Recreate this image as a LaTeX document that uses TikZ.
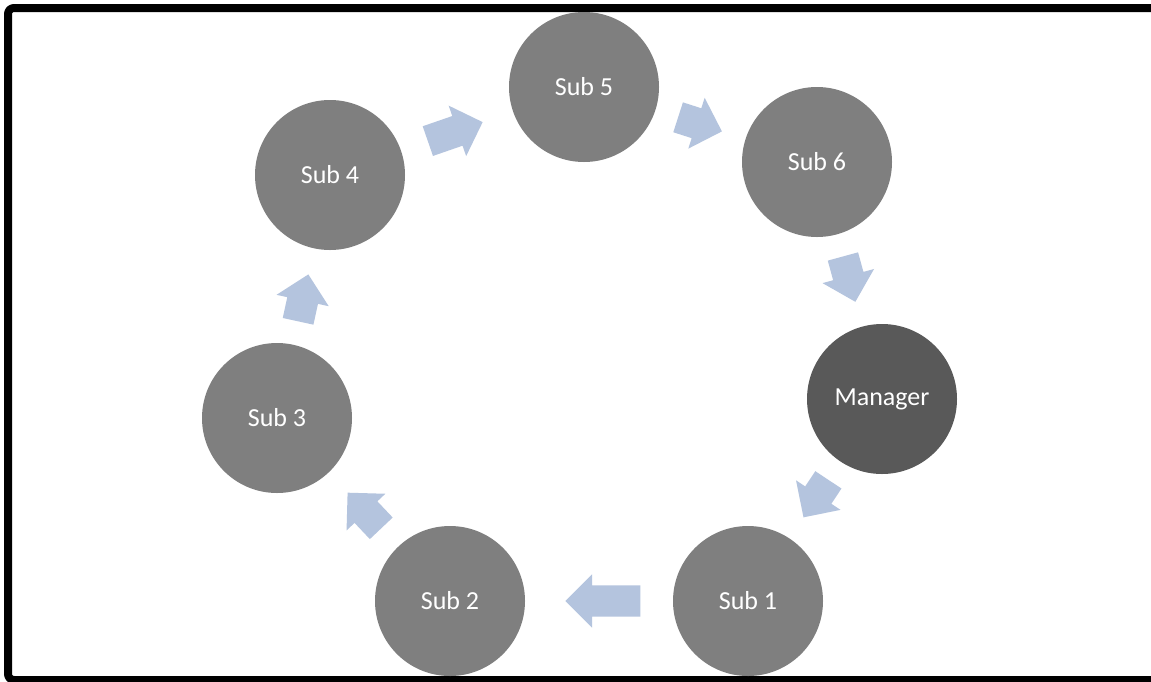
\documentclass[tikz,border=0pt]{standalone}
\usepackage{fontspec}
\setmainfont{Carlito}
\usetikzlibrary{shapes.arrows}
\definecolor{subgray}{RGB}{127,127,127}
\definecolor{mgrgray}{RGB}{89,89,89}
\definecolor{flowblue}{RGB}{180,196,222}
\tikzset{
  member/.style={circle, fill=subgray, draw=none, minimum size=150pt, inner sep=0pt,
    text=white, font=\fontsize{26}{30}\selectfont},
  lead/.style={member, fill=mgrgray},
  flow/.style={single arrow, fill=flowblue, draw=none, inner xsep=0pt, inner ysep=15.5pt,
    single arrow head extend=11pt, single arrow tip angle=90,
    sloped, allow upside down, anchor=tip},
}
\begin{document}
\begin{tikzpicture}[x=1pt,y=-1pt]
  \useasboundingbox (0,0) rectangle (1151,681);
  \fill[white] (0,0) rectangle (1151,681);
  % outer frame, open towards the right edge
  \draw[line width=8pt, rounded corners=6pt, line join=round]
    (1300,8) -- (8,8) -- (8,680) -- (1300,680);

  % members of the ring
  \node[member] (s5) at (584,87)  {Sub 5};
  \node[member] (s6) at (817,162) {Sub 6};
  \node[lead]   (mg) at (882,399) {Manager};
  \node[member] (s1) at (748,601) {Sub 1};
  \node[member] (s2) at (450,601) {Sub 2};
  \node[member] (s3) at (277,418) {Sub 3};
  \node[member] (s4) at (330,175) {Sub 4};

  % block arrows between neighbours
  \path (s4.center) -- node[flow, pos=0.602, minimum height=58pt] (a45) {} (s5.center);
  \path (s5.center) -- node[flow, pos=0.593, minimum height=46pt] (a56) {} (s6.center);
  \path (s6.center) -- node[flow, pos=0.591, minimum height=47pt] (a6m) {} (mg.center);
  \path (mg.center) -- node[flow, pos=0.587, minimum height=45pt] (am1) {} (s1.center);
  \path (s1.center) -- node[flow, pos=0.614, minimum height=75pt] (a12) {} (s2.center);
  \path (s2.center) -- node[flow, pos=0.593, minimum height=49pt] (a23) {} (s3.center);
  \path (s3.center) -- node[flow, pos=0.592, minimum height=48pt] (a34) {} (s4.center);
\end{tikzpicture}
\end{document}
